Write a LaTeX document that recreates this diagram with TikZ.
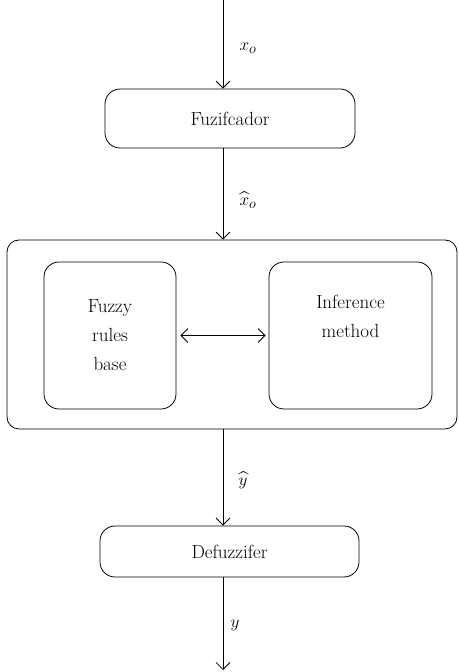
\documentclass[tikz,border=0pt]{standalone}
\usepackage{amsmath,amssymb}
\usepackage{tikz}
\usetikzlibrary{positioning, arrows.meta}

\tikzset{
    block/.style={draw, thick, rounded corners=15pt, align=center, inner sep=0pt},
    flow/.style={thick, -{Straight Barb[length=7pt, width=14pt]}},
    txt/.style={font=\fontsize{19}{29}\selectfont},
    sym/.style={font=\fontsize{19}{22}\selectfont, inner sep=0pt}
}

\begin{document}
\begin{tikzpicture}[x=1pt, y=1pt, line width=1pt]
    \useasboundingbox (0,0) rectangle (458,672);

    % Blocks
    \node[block, txt, minimum width=250pt, minimum height=59pt] (fuz) at (230, 553.5) {Fuzifcador};
    \node[block, rounded corners=12pt, minimum width=450pt, minimum height=189pt] (inf) at (232, 337.5) {};
    \node[block, txt, minimum width=132pt, minimum height=147pt] (rules) at (110, 336.5) {Fuzzy\\rules\\base};
    \node[block, txt, minimum width=163pt, minimum height=147pt] (meth) at (350.5, 336.5) {Inference\\method\\\strut};
    \node[block, txt, minimum width=259pt, minimum height=51pt] (defuz) at (229.5, 120.5) {Defuzzifer};

    \coordinate (in) at (223, 672);
    \coordinate (out) at (223, 2);

    % Connectors
    \draw[flow] (in) -- (in |- fuz.north);
    \draw[flow] (fuz.south -| in) -- (in |- inf.north);
    \draw[thick, {Straight Barb[length=7pt, width=14pt]}-{Straight Barb[length=7pt, width=14pt]}, shorten <=4pt, shorten >=3pt] (rules.east) -- (meth.west);
    \draw[flow] (inf.south -| in) -- (in |- defuz.north);
    \draw[flow] (defuz.south -| in) -- (out);

    % Signal labels
    \node[sym] (xo) at (248, 624) {$x_o$};
    \node[sym] (xohat) at (248, 472) {$\widehat{x}_o$};
    \node[sym] (yhat) at (243, 192) {$\widehat{y}$};
    \node[sym] (y) at (235, 47) {$y$};
\end{tikzpicture}
\end{document}
